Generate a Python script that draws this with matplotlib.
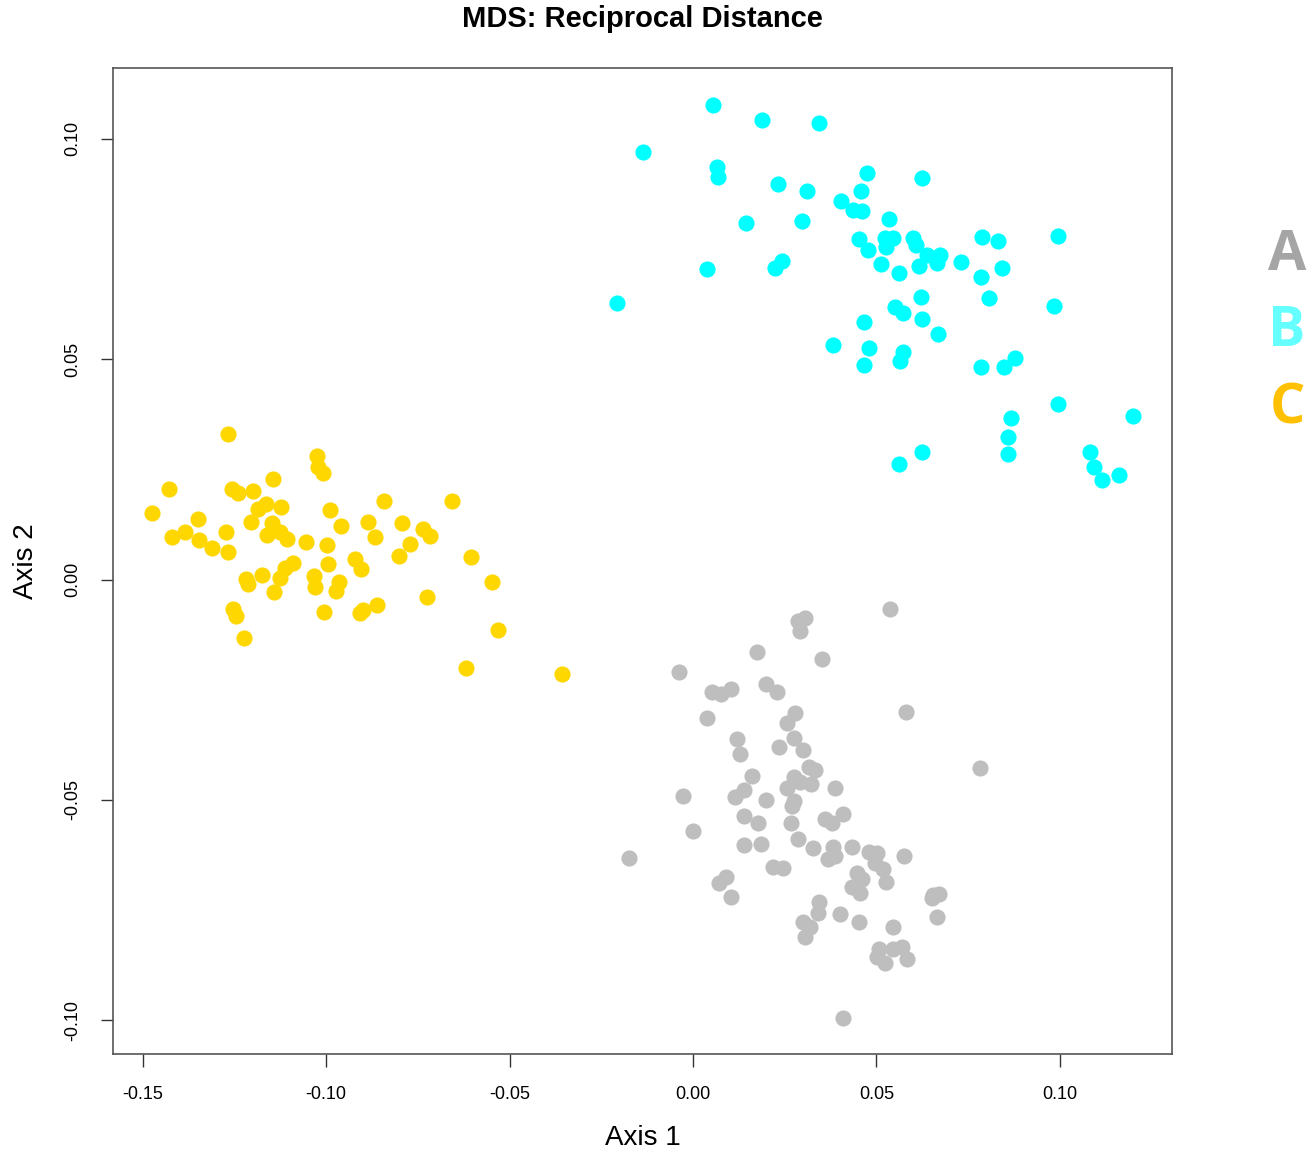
"""
MDS scatter (reciprocal distance) with three groups, R-style layout.
"""

import matplotlib
matplotlib.use("Agg")
import matplotlib.pyplot as plt
import numpy as np

# group A (gray)
a_x = [0.0305, 0.0286, 0.0292, 0.0175, 0.0352, -0.0038, 0.0052, 0.0076, 0.0104, 0.0199,
       0.0229, 0.0038, 0.0278, 0.0256, 0.0120, 0.0128, 0.0235, 0.0275, 0.0300, 0.0161,
       0.0316, 0.0333, 0.0275, 0.0256, 0.0292, 0.0322, 0.0387, -0.0027, 0.0115, 0.0139,
       0.0199, 0.0275, 0.0270, 0.0537, 0.0581, 0.0782, 0.0409, 0.0360, 0.0379, 0.0139,
       0.0177, 0.0267, 0.0000, 0.0286, 0.0327, 0.0139, 0.0185, 0.0382, 0.0387, 0.0368,
       0.0434, 0.0480, 0.0502, 0.0496, 0.0518, 0.0526, 0.0575, -0.0175, 0.0218, 0.0245,
       0.0447, 0.0461, 0.0434, 0.0455, 0.0090, 0.0071, 0.0104, 0.0654, 0.0671, 0.0652,
       0.0665, 0.0344, 0.0341, 0.0401, 0.0453, 0.0300, 0.0319, 0.0305, 0.0545, 0.0507,
       0.0502, 0.0523, 0.0545, 0.0570, 0.0583, 0.0409]
a_y = [-0.0087, -0.0094, -0.0117, -0.0165, -0.0181, -0.0210, -0.0255, -0.0260, -0.0249, -0.0237,
       -0.0255, -0.0314, -0.0303, -0.0326, -0.0362, -0.0396, -0.0380, -0.0360, -0.0387, -0.0446,
       -0.0426, -0.0433, -0.0448, -0.0473, -0.0460, -0.0464, -0.0473, -0.0492, -0.0494, -0.0478,
       -0.0501, -0.0503, -0.0514, -0.0067, -0.0301, -0.0428, -0.0532, -0.0544, -0.0553, -0.0537,
       -0.0553, -0.0553, -0.0571, -0.0589, -0.0610, -0.0603, -0.0601, -0.0607, -0.0628, -0.0635,
       -0.0607, -0.0619, -0.0621, -0.0644, -0.0657, -0.0687, -0.0628, -0.0632, -0.0653, -0.0655,
       -0.0666, -0.0680, -0.0698, -0.0712, -0.0675, -0.0689, -0.0721, -0.0716, -0.0714, -0.0723,
       -0.0766, -0.0732, -0.0757, -0.0759, -0.0778, -0.0778, -0.0789, -0.0812, -0.0789, -0.0839,
       -0.0857, -0.0871, -0.0839, -0.0834, -0.0862, -0.0996]

# group B (cyan)
b_x = [0.0055, -0.0136, 0.0188, 0.0344, 0.0065, 0.0068, 0.0232, 0.0311, 0.0474, 0.0624,
       0.0458, 0.0404, 0.0436, 0.0461, 0.0145, 0.0297, 0.0534, 0.0038, 0.0224, 0.0243,
       -0.0207, 0.0453, 0.0523, 0.0545, 0.0526, 0.0600, 0.0608, 0.0477, 0.0638, 0.0673,
       0.0513, 0.0562, 0.0616, 0.0665, 0.0731, 0.0788, 0.0832, 0.0995, 0.0785, 0.0842,
       0.0622, 0.0807, 0.0551, 0.0573, 0.0624, 0.0466, 0.0984, 0.0668, 0.0382, 0.0480,
       0.0466, 0.0573, 0.0564, 0.0785, 0.0848, 0.0878, 0.0995, 0.0867, 0.1200, 0.0859,
       0.0859, 0.0624, 0.0562, 0.1082, 0.1093, 0.1115, 0.1161]
b_y = [0.1077, 0.0971, 0.1043, 0.1036, 0.0936, 0.0914, 0.0898, 0.0882, 0.0923, 0.0912,
       0.0882, 0.0859, 0.0839, 0.0837, 0.0809, 0.0814, 0.0818, 0.0705, 0.0707, 0.0723,
       0.0628, 0.0773, 0.0775, 0.0775, 0.0755, 0.0775, 0.0759, 0.0748, 0.0737, 0.0737,
       0.0716, 0.0696, 0.0712, 0.0719, 0.0721, 0.0778, 0.0768, 0.0780, 0.0687, 0.0707,
       0.0641, 0.0639, 0.0619, 0.0605, 0.0591, 0.0585, 0.0621, 0.0557, 0.0532, 0.0526,
       0.0487, 0.0517, 0.0496, 0.0482, 0.0482, 0.0503, 0.0398, 0.0367, 0.0371, 0.0324,
       0.0285, 0.0289, 0.0262, 0.0289, 0.0255, 0.0226, 0.0237]

# group C (gold)
c_x = [-0.1268, -0.1429, -0.1475, -0.1350, -0.1420, -0.1385, -0.1347, -0.1311, -0.1273, -0.1268,
       -0.1257, -0.1241, -0.1200, -0.1145, -0.1025, -0.1022, -0.1009, -0.1186, -0.1164, -0.1123,
       -0.1205, -0.1148, -0.1161, -0.1126, -0.1107, -0.1055, -0.0990, -0.0960, -0.0998, -0.0995,
       -0.0922, -0.1091, -0.1112, -0.1126, -0.1175, -0.1219, -0.1213, -0.1142, -0.1033, -0.1031,
       -0.0965, -0.0973, -0.1006, -0.0908, -0.1254, -0.1246, -0.1224, -0.0842, -0.0657, -0.0886,
       -0.0867, -0.0793, -0.0736, -0.0717, -0.0772, -0.0802, -0.0905, -0.0900, -0.0862, -0.0725,
       -0.0605, -0.0548, -0.0532, -0.0619, -0.0357]
c_y = [0.0330, 0.0205, 0.0151, 0.0137, 0.0097, 0.0108, 0.0090, 0.0072, 0.0108, 0.0062,
       0.0205, 0.0196, 0.0201, 0.0228, 0.0280, 0.0255, 0.0242, 0.0160, 0.0171, 0.0165,
       0.0131, 0.0128, 0.0101, 0.0108, 0.0092, 0.0085, 0.0158, 0.0122, 0.0078, 0.0035,
       0.0047, 0.0038, 0.0026, 0.0003, 0.0010, 0.0001, -0.0010, -0.0028, 0.0008, -0.0017,
       -0.0006, -0.0026, -0.0074, -0.0076, -0.0067, -0.0083, -0.0133, 0.0178, 0.0178, 0.0131,
       0.0097, 0.0128, 0.0115, 0.0099, 0.0081, 0.0053, 0.0024, -0.0069, -0.0058, -0.0040,
       0.0051, -0.0006, -0.0115, -0.0201, -0.0215]

xticks = [-0.15, -0.10, -0.05, 0.00, 0.05, 0.10]
yticks = [-0.10, -0.05, 0.00, 0.05, 0.10]
legend_labels = ["A", "B", "C"]
legend_colors = ["#A5A5A5", "#66FFFF", "#FFC000"]

plt.rcParams["font.family"] = ["Liberation Sans", "DejaVu Sans"]

fig = plt.figure(figsize=(13.12, 11.6), dpi=100)
ax = fig.add_axes([113 / 1312, 1 - 1054 / 1160, (1172 - 113) / 1312, (1054 - 68) / 1160])

ax.scatter(a_x, a_y, s=135, color="#BEBEBE", linewidths=0)
ax.scatter(b_x, b_y, s=135, color="#00FFFF", linewidths=0)
ax.scatter(c_x, c_y, s=135, color="#FFD700", linewidths=0)

ax.set_xlim(-0.1581, 0.1306)
ax.set_ylim(-0.1077, 0.1161)
ax.set_xticks(xticks)
ax.set_xticklabels([f"{t:.2f}" for t in xticks])
ax.set_yticks(yticks)
ax.set_yticklabels([f"{t:.2f}" for t in yticks], rotation=90, va="center")
ax.tick_params(length=9, width=1, color="#333333", labelsize=13, pad=14)

for spine in ax.spines.values():
    spine.set_color("#555555")
    spine.set_linewidth(1.2)

ax.set_xlabel("Axis 1", fontsize=20, labelpad=16)
ax.set_ylabel("Axis 2", fontsize=20, labelpad=18)
fig.text(0.49, 0.984, "MDS: Reciprocal Distance", ha="center", va="center",
         fontsize=21, fontweight="bold")

for i, (lab, col) in enumerate(zip(legend_labels, legend_colors)):
    fig.text(1287 / 1312, 1 - (255 + 77 * i) / 1160, lab, ha="center", va="center",
             fontsize=40, fontweight="bold", color=col, family=["Open Sans", "DejaVu Sans"])

fig.savefig("out.png", dpi=100)
